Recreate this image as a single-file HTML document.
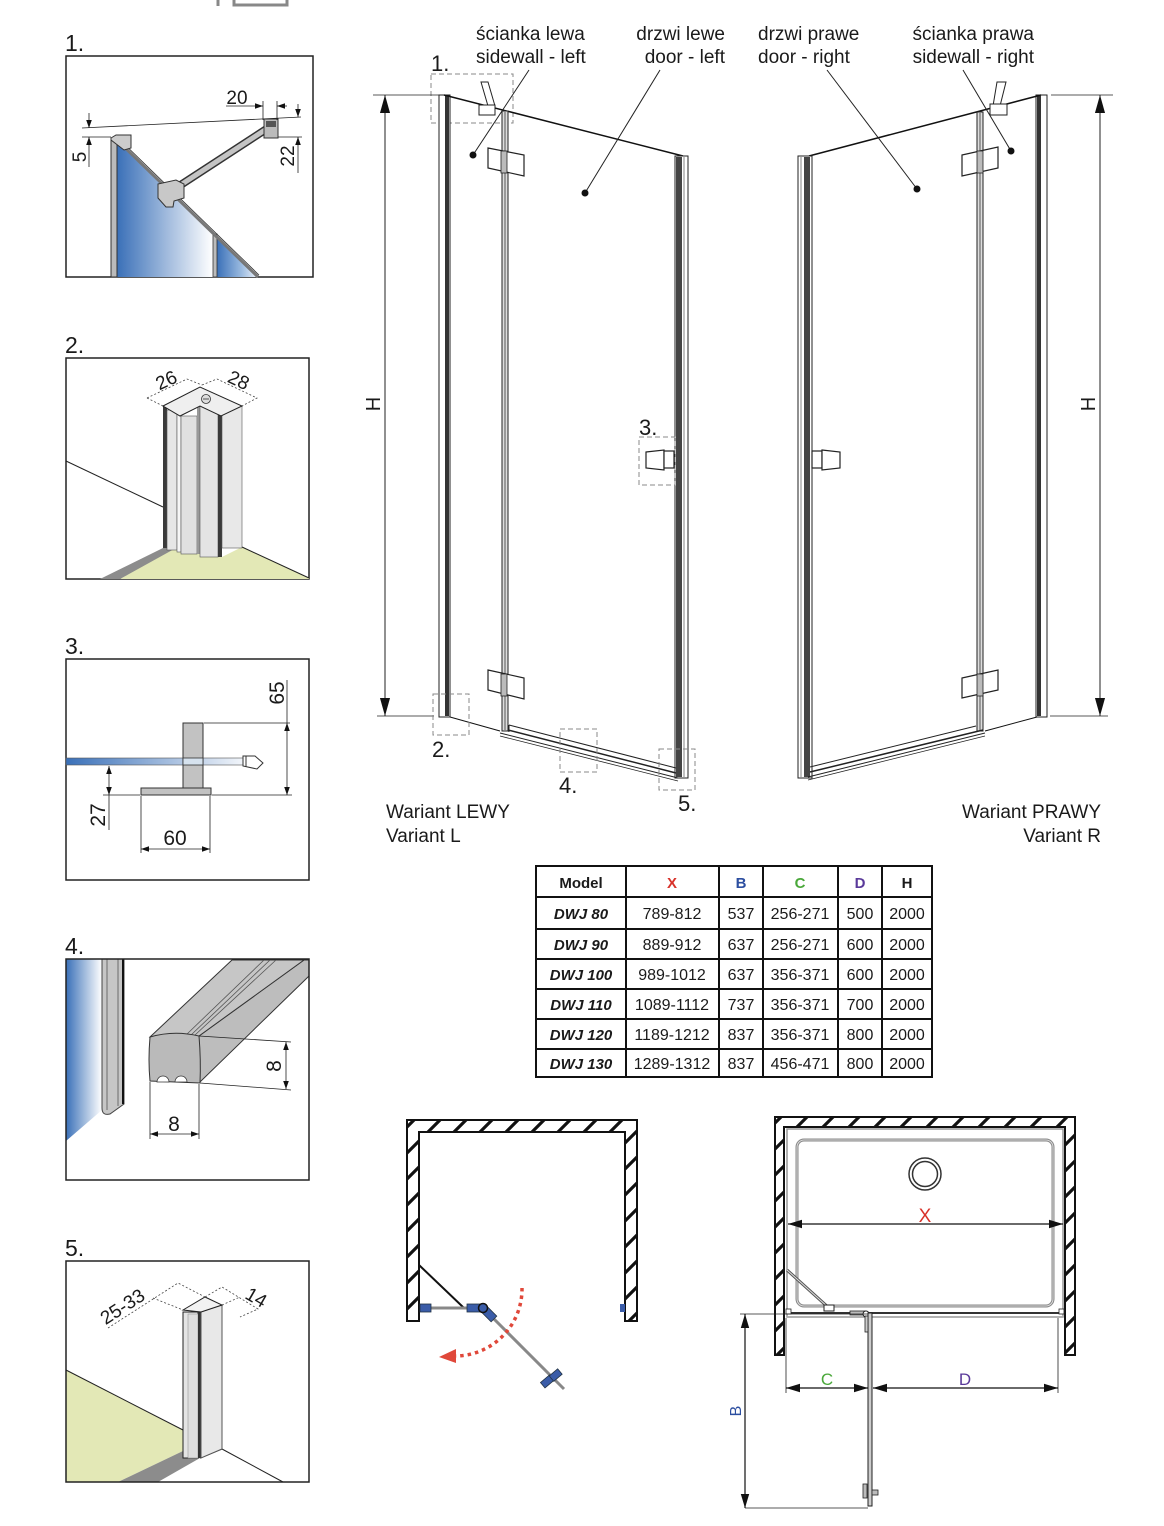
<!DOCTYPE html>
<html><head><meta charset="utf-8"><style>
html,body{margin:0;padding:0;background:#fff;}
svg{display:block;}
text{font-family:"Liberation Sans",sans-serif;fill:#1a1a1a;}
</style></head><body>
<svg width="1164" height="1526" viewBox="0 0 1164 1526" xmlns="http://www.w3.org/2000/svg">
<defs>
<marker id="a" viewBox="0 0 10 10" refX="10" refY="5" markerWidth="8" markerHeight="8" orient="auto-start-reverse" markerUnits="userSpaceOnUse"><path d="M0,1.5 L10,5 L0,8.5z" fill="#111"/></marker>
<marker id="b" viewBox="0 0 10 10" refX="10" refY="5" markerWidth="18" markerHeight="18" orient="auto-start-reverse" markerUnits="userSpaceOnUse"><path d="M0,2.2 L10,5 L0,7.8z" fill="#111"/></marker>
<marker id="c" viewBox="0 0 10 10" refX="10" refY="5" markerWidth="14" markerHeight="14" orient="auto-start-reverse" markerUnits="userSpaceOnUse"><path d="M0,2 L10,5 L0,8z" fill="#111"/></marker>
<linearGradient id="gb" x1="0" y1="0" x2="1" y2="0"><stop offset="0" stop-color="#3a70b8"/><stop offset="1" stop-color="#ffffff"/></linearGradient>
<linearGradient id="gb2" x1="0" y1="0" x2="1" y2="0"><stop offset="0" stop-color="#3a70b8"/><stop offset="0.6" stop-color="#9bbbe0"/><stop offset="1" stop-color="#eef3fa"/></linearGradient>
<pattern id="hatch" patternUnits="userSpaceOnUse" width="26" height="26"><path d="M-3,29 L29,-3 M-3,3 L3,-3 M23,29 L29,23" stroke="#111" stroke-width="3.2"/></pattern>
</defs>
<rect width="1164" height="1526" fill="#fff"/>

<!-- top partial icon -->
<line x1="218" y1="0" x2="218" y2="6" stroke="#888" stroke-width="3"/>
<path d="M234,0 V5 H287 V0" fill="none" stroke="#888" stroke-width="3"/>

<!-- ================= PANEL 1 ================= -->
<text x="65" y="51" font-size="23">1.</text>
<rect x="66" y="56" width="247" height="221" fill="none" stroke="#222" stroke-width="1.5"/>
<polygon points="117,140 213,233 213,277 117,277" fill="url(#gb)"/>
<polygon points="217,237 258,277 217,277" fill="url(#gb2)"/>
<rect x="111" y="138" width="6" height="139" fill="#bbb" stroke="#333" stroke-width="1"/>
<rect x="213" y="234" width="4" height="43" fill="#bbb" stroke="#333" stroke-width="0.8"/>
<line x1="117" y1="140" x2="258" y2="277" stroke="#777" stroke-width="3"/>
<line x1="118" y1="138" x2="259" y2="275" stroke="#333" stroke-width="0.8"/>
<polygon points="111,138 116,135 131,135 131,148 124,150 111,140" fill="#ccc" stroke="#333" stroke-width="1"/>
<!-- arm -->
<line x1="176" y1="188" x2="268" y2="128" stroke="#333" stroke-width="8"/>
<line x1="176" y1="188" x2="268" y2="128" stroke="#c4c4c4" stroke-width="5"/>
<rect x="264" y="119" width="14" height="19" fill="#bbb" stroke="#333" stroke-width="1"/>
<rect x="266" y="121" width="10" height="6" fill="#555"/>
<polygon points="158,184 176,180 184,184 184,198 174,201 173,207 166,207 158,198" fill="#c8c8c8" stroke="#333" stroke-width="1"/>
<!-- dims panel 1 -->
<line x1="82" y1="128" x2="301" y2="117" stroke="#222" stroke-width="0.8"/>
<line x1="82" y1="137" x2="111" y2="137" stroke="#222" stroke-width="0.8"/>
<line x1="89" y1="113" x2="89" y2="128" stroke="#222" stroke-width="0.8" marker-end="url(#a)"/>
<line x1="89" y1="167" x2="89" y2="137" stroke="#222" stroke-width="0.8" marker-end="url(#a)"/>
<text transform="translate(86,157) rotate(-90)" font-size="19" text-anchor="middle">5</text>
<line x1="226" y1="106" x2="263" y2="106" stroke="#222" stroke-width="0.8" marker-end="url(#a)"/>
<line x1="287" y1="106" x2="277" y2="106" stroke="#222" stroke-width="0.8" marker-end="url(#a)"/>
<line x1="263" y1="101" x2="263" y2="120" stroke="#222" stroke-width="0.8"/>
<line x1="277" y1="101" x2="277" y2="120" stroke="#222" stroke-width="0.8"/>
<text x="237" y="104" font-size="19" text-anchor="middle">20</text>
<line x1="278" y1="137" x2="302" y2="137" stroke="#222" stroke-width="0.8"/>
<line x1="298" y1="104" x2="298" y2="117" stroke="#222" stroke-width="0.8" marker-end="url(#a)"/>
<line x1="298" y1="173" x2="298" y2="137" stroke="#222" stroke-width="0.8" marker-end="url(#a)"/>
<text transform="translate(294,156) rotate(-90)" font-size="19" text-anchor="middle">22</text>

<!-- ================= PANEL 2 ================= -->
<text x="65" y="353" font-size="23">2.</text>
<rect x="66" y="358" width="243" height="221" fill="none" stroke="#222" stroke-width="1.5"/>
<line x1="66" y1="461" x2="163" y2="507" stroke="#222" stroke-width="1"/>
<polygon points="120,579 174,548 222,557 242,547 309,578 309,579" fill="#e3e8b6"/>
<polygon points="100,579 163,548 176,548 120,579" fill="#8c8c8c"/>
<line x1="242" y1="547" x2="309" y2="578" stroke="#222" stroke-width="1"/>
<!-- column -->
<rect x="163" y="406" width="4" height="142" fill="#3a3a3a"/>
<rect x="167" y="410" width="10" height="140" fill="#e6e6e6" stroke="#555" stroke-width="0.6"/>
<rect x="177" y="414" width="4" height="138" fill="#f6f6f6" stroke="#555" stroke-width="0.6"/>
<rect x="181" y="416" width="16" height="138" fill="#e0e0e0" stroke="#555" stroke-width="0.6"/>
<rect x="197" y="406" width="3" height="148" fill="#999"/>
<rect x="200" y="406" width="18" height="151" fill="#e4e4e4" stroke="#555" stroke-width="0.6"/>
<rect x="218" y="415" width="4" height="142" fill="#3a3a3a"/>
<rect x="222" y="406" width="20" height="142" fill="#e8e8e8" stroke="#555" stroke-width="0.6"/>
<polygon points="163,406 200,387 242,406 221,416 200,406 180,416" fill="#efefef" stroke="#222" stroke-width="1"/>
<circle cx="206" cy="399" r="4.5" fill="#ddd" stroke="#333" stroke-width="0.8"/>
<line x1="203" y1="399" x2="209" y2="399" stroke="#333" stroke-width="0.8"/>
<g stroke="#444" stroke-width="0.8" stroke-dasharray="2,2" fill="none">
<path d="M147,398 L187,379 L202,385"/><path d="M147,398 L163,406"/>
<path d="M202,385 L217,379 L257,398 L242,406"/>
</g>
<text transform="translate(169,386) rotate(-25)" font-size="19" text-anchor="middle">26</text>
<text transform="translate(236,386) rotate(25)" font-size="19" text-anchor="middle">28</text>

<!-- ================= PANEL 3 ================= -->
<text x="65" y="654" font-size="23">3.</text>
<rect x="66" y="659" width="243" height="221" fill="none" stroke="#222" stroke-width="1.5"/>
<rect x="66" y="758" width="190" height="7" fill="url(#gb)" stroke="#555" stroke-width="0.6"/>
<rect x="183" y="723" width="20" height="65" fill="#c2c2c2" stroke="#333" stroke-width="1"/>
<rect x="183" y="758" width="20" height="7" fill="#d6e2ee" stroke="#333" stroke-width="0.8"/>
<rect x="141" y="788" width="70" height="7" fill="#c2c2c2" stroke="#333" stroke-width="1"/>
<path d="M243,756 L255,756 L263,763 L257,769 L243,766 Z" fill="#fff" stroke="#333" stroke-width="1"/>
<line x1="246" y1="756" x2="246" y2="767" stroke="#333" stroke-width="1"/>
<line x1="204" y1="723" x2="290" y2="723" stroke="#222" stroke-width="0.8"/>
<line x1="212" y1="795" x2="292" y2="795" stroke="#222" stroke-width="0.8"/>
<line x1="287" y1="680" x2="287" y2="723" stroke="#222" stroke-width="0.8"/>
<line x1="287" y1="759" x2="287" y2="723" stroke="#222" stroke-width="0.8" marker-end="url(#a)"/>
<line x1="287" y1="759" x2="287" y2="795" stroke="#222" stroke-width="0.8" marker-end="url(#a)"/>
<text transform="translate(284,693) rotate(-90)" font-size="21" text-anchor="middle">65</text>
<line x1="103" y1="795" x2="140" y2="795" stroke="#222" stroke-width="0.8"/>
<line x1="109" y1="780" x2="109" y2="766" stroke="#222" stroke-width="0.8" marker-end="url(#a)"/>
<line x1="109" y1="780" x2="109" y2="795" stroke="#222" stroke-width="0.8" marker-end="url(#a)"/>
<line x1="109" y1="795" x2="109" y2="830" stroke="#222" stroke-width="0.8"/>
<text transform="translate(105,815) rotate(-90)" font-size="21" text-anchor="middle">27</text>
<line x1="141" y1="796" x2="141" y2="853" stroke="#222" stroke-width="0.8"/>
<line x1="210" y1="796" x2="210" y2="853" stroke="#222" stroke-width="0.8"/>
<line x1="175" y1="849" x2="141" y2="849" stroke="#222" stroke-width="0.8" marker-end="url(#a)"/>
<line x1="175" y1="849" x2="210" y2="849" stroke="#222" stroke-width="0.8" marker-end="url(#a)"/>
<text x="175" y="845" font-size="21" text-anchor="middle">60</text>

<!-- ================= PANEL 4 ================= -->
<text x="65" y="954" font-size="23">4.</text>
<polygon points="66,959 102,959 102,1110 66,1141" fill="url(#gb)"/>
<path d="M102,959 L124,959 L124,1104 L110,1114 Q102,1116 102,1108 Z" fill="#c6c6c6" stroke="#444" stroke-width="1"/>
<line x1="107" y1="959" x2="107" y2="1110" stroke="#555" stroke-width="0.8"/>
<line x1="118" y1="959" x2="118" y2="1106" stroke="#555" stroke-width="0.8"/>
<line x1="123" y1="959" x2="123" y2="1104" stroke="#111" stroke-width="2"/>
<!-- profile -->
<polygon points="199,1036 304,960 309,960 309,976 200,1082" fill="#bdbdbd" stroke="#333" stroke-width="1"/>
<polygon points="150,1037 232,960 304,960 199,1036" fill="#c6c6c6" stroke="#333" stroke-width="1"/>
<line x1="186" y1="1035" x2="264" y2="960" stroke="#555" stroke-width="0.8"/>
<line x1="191" y1="1035" x2="270" y2="960" stroke="#555" stroke-width="0.8"/>
<line x1="195" y1="1035" x2="276" y2="960" stroke="#555" stroke-width="0.8"/>
<path d="M150,1037 Q174,1030 199,1036 Q201,1060 200,1083 L150,1081 Q148,1060 150,1037 Z" fill="#bababa" stroke="#333" stroke-width="1"/>
<path d="M157,1082 A6,6 0 0 1 169,1082 Z" fill="#fff" stroke="#333" stroke-width="0.8"/>
<path d="M175,1082 A6,6 0 0 1 187,1082 Z" fill="#fff" stroke="#333" stroke-width="0.8"/>
<line x1="199" y1="1036" x2="291" y2="1042" stroke="#222" stroke-width="0.8"/>
<line x1="200" y1="1083" x2="291" y2="1090" stroke="#222" stroke-width="0.8"/>
<line x1="286" y1="1065" x2="286" y2="1042" stroke="#222" stroke-width="0.8" marker-end="url(#a)"/>
<line x1="286" y1="1065" x2="286" y2="1089" stroke="#222" stroke-width="0.8" marker-end="url(#a)"/>
<text transform="translate(281,1066) rotate(-90)" font-size="21" text-anchor="middle">8</text>
<line x1="150" y1="1082" x2="150" y2="1139" stroke="#222" stroke-width="0.8"/>
<line x1="199" y1="1084" x2="199" y2="1139" stroke="#222" stroke-width="0.8"/>
<line x1="174" y1="1134" x2="150" y2="1134" stroke="#222" stroke-width="0.8" marker-end="url(#a)"/>
<line x1="174" y1="1134" x2="199" y2="1134" stroke="#222" stroke-width="0.8" marker-end="url(#a)"/>
<text x="174" y="1131" font-size="21" text-anchor="middle">8</text>
<rect x="66" y="959" width="243" height="221" fill="none" stroke="#222" stroke-width="1.5"/>

<!-- ================= PANEL 5 ================= -->
<text x="65" y="1256" font-size="23">5.</text>
<polygon points="66,1370 183,1430 183,1451 118,1482 66,1482" fill="#e3e8b6"/>
<line x1="66" y1="1370" x2="183" y2="1430" stroke="#222" stroke-width="1"/>
<polygon points="118,1482 183,1451 200,1458 158,1482" fill="#8c8c8c"/>
<line x1="200" y1="1458" x2="222" y2="1449" stroke="#222" stroke-width="1"/>
<line x1="222" y1="1449" x2="283" y2="1482" stroke="#222" stroke-width="1"/>
<rect x="183" y="1312" width="15" height="146" fill="#e4e4e4" stroke="#222" stroke-width="1"/>
<rect x="188" y="1314" width="10" height="144" fill="#dedede" stroke="#888" stroke-width="0.5"/>
<rect x="198" y="1312" width="3" height="146" fill="#333"/>
<polygon points="201,1312 222,1305 222,1449 201,1458" fill="#e8e8e8" stroke="#555" stroke-width="1"/>
<polygon points="183,1310 205,1297 222,1305 201,1312" fill="#f2f2f2" stroke="#222" stroke-width="1"/>
<g stroke="#444" stroke-width="0.8" stroke-dasharray="2,2" fill="none">
<path d="M108,1328 L178,1283 L205,1297"/><path d="M153,1298 L183,1310"/>
<path d="M205,1297 L222,1287 L258,1309 L240,1317"/><path d="M222,1305 L240,1297"/>
</g>
<text transform="translate(126,1312) rotate(-33)" font-size="19" text-anchor="middle">25-33</text>
<text transform="translate(253,1303) rotate(30)" font-size="19" text-anchor="middle">14</text>
<rect x="66" y="1261" width="243" height="221" fill="none" stroke="#222" stroke-width="1.5"/>

<!-- ================= LEFT VARIANT ================= -->
<text x="476" y="40" font-size="19">ścianka lewa</text>
<text x="476" y="63" font-size="19">sidewall - left</text>
<text x="725" y="40" font-size="19" text-anchor="end">drzwi lewe</text>
<text x="725" y="63" font-size="19" text-anchor="end">door - left</text>
<text x="431" y="71" font-size="22">1.</text>
<rect x="431" y="74" width="82" height="49" fill="none" stroke="#888" stroke-width="1" stroke-dasharray="5,3"/>
<!-- H dim -->
<line x1="373" y1="95" x2="441" y2="95" stroke="#222" stroke-width="0.8"/>
<line x1="377" y1="716" x2="434" y2="716" stroke="#222" stroke-width="0.8"/>
<line x1="385" y1="405" x2="385" y2="95" stroke="#222" stroke-width="1" marker-end="url(#b)"/>
<line x1="385" y1="405" x2="385" y2="716" stroke="#222" stroke-width="1" marker-end="url(#b)"/>
<text transform="translate(380,404) rotate(-90)" font-size="20" text-anchor="middle">H</text>
<!-- sidewall post -->
<rect x="439" y="95" width="11" height="622" fill="#fff" stroke="#222" stroke-width="1"/>
<rect x="445" y="96" width="4" height="620" fill="#333"/>
<!-- top line -->
<line x1="444" y1="95" x2="683" y2="156" stroke="#111" stroke-width="1.5"/>
<line x1="450" y1="717" x2="500" y2="731" stroke="#111" stroke-width="1"/>
<!-- hinge post -->
<rect x="502" y="111" width="6" height="620" fill="#ddd" stroke="#222" stroke-width="1"/>
<line x1="505" y1="112" x2="505" y2="730" stroke="#555" stroke-width="1"/>
<!-- door right post -->
<rect x="675" y="156" width="13" height="622" fill="#fff" stroke="#222" stroke-width="1"/>
<rect x="676" y="157" width="6" height="620" fill="#444"/>
<line x1="684" y1="157" x2="684" y2="777" stroke="#666" stroke-width="0.8"/>
<!-- bottom rail -->
<line x1="509" y1="725" x2="676" y2="768" stroke="#222" stroke-width="1"/>
<line x1="508" y1="730" x2="676" y2="773" stroke="#222" stroke-width="1.5"/>
<line x1="500" y1="733" x2="678" y2="778" stroke="#222" stroke-width="1"/>
<line x1="500" y1="736" x2="678" y2="781" stroke="#222" stroke-width="0.8"/>
<line x1="509" y1="725" x2="509" y2="732" stroke="#222" stroke-width="1"/>
<!-- hinges -->
<polygon points="488,148 524,155 524,176 488,168" fill="#fff" stroke="#222" stroke-width="1.2"/>
<rect x="501" y="151" width="6" height="22" fill="#bbb" stroke="#222" stroke-width="0.8"/>
<polygon points="488,670 524,678 524,699 488,690" fill="#fff" stroke="#222" stroke-width="1.2"/>
<rect x="501" y="674" width="6" height="22" fill="#bbb" stroke="#222" stroke-width="0.8"/>
<!-- bracket -->
<polygon points="481,82 488,82 495,106 488,106" fill="#fff" stroke="#222" stroke-width="1"/>
<rect x="479" y="105" width="16" height="10" fill="#fff" stroke="#222" stroke-width="1"/>
<!-- handle -->
<rect x="639" y="437" width="36" height="48" fill="none" stroke="#888" stroke-width="1" stroke-dasharray="5,3"/>
<text x="639" y="435" font-size="22">3.</text>
<polygon points="646,452 664,450 664,470 646,468" fill="#fff" stroke="#222" stroke-width="1.2"/>
<rect x="664" y="451" width="10" height="17" fill="#fff" stroke="#222" stroke-width="1.2"/>
<!-- dots & leaders -->
<line x1="529" y1="70" x2="473" y2="155" stroke="#222" stroke-width="1"/>
<circle cx="473" cy="155" r="3.5" fill="#111"/>
<line x1="660" y1="70" x2="585" y2="193" stroke="#222" stroke-width="1"/>
<circle cx="585" cy="193" r="3.5" fill="#111"/>
<!-- dashed boxes -->
<rect x="433" y="694" width="36" height="41" fill="none" stroke="#888" stroke-width="1" stroke-dasharray="5,3"/>
<text x="432" y="757" font-size="22">2.</text>
<rect x="560" y="729" width="37" height="43" fill="none" stroke="#888" stroke-width="1" stroke-dasharray="5,3"/>
<text x="559" y="793" font-size="22">4.</text>
<rect x="659" y="749" width="36" height="41" fill="none" stroke="#888" stroke-width="1" stroke-dasharray="5,3"/>
<text x="678" y="811" font-size="22">5.</text>
<text x="386" y="818" font-size="19">Wariant LEWY</text>
<text x="386" y="842" font-size="19">Variant L</text>

<!-- ================= RIGHT VARIANT ================= -->
<text x="758" y="40" font-size="19">drzwi prawe</text>
<text x="758" y="63" font-size="19">door - right</text>
<text x="1034" y="40" font-size="19" text-anchor="end">ścianka prawa</text>
<text x="1034" y="63" font-size="19" text-anchor="end">sidewall - right</text>
<line x1="1051" y1="95" x2="1113" y2="95" stroke="#222" stroke-width="0.8"/>
<line x1="1050" y1="716" x2="1108" y2="716" stroke="#222" stroke-width="0.8"/>
<line x1="1100" y1="405" x2="1100" y2="95" stroke="#222" stroke-width="1" marker-end="url(#b)"/>
<line x1="1100" y1="405" x2="1100" y2="716" stroke="#222" stroke-width="1" marker-end="url(#b)"/>
<text transform="translate(1095,404) rotate(-90)" font-size="20" text-anchor="middle">H</text>
<rect x="1036" y="95" width="11" height="622" fill="#fff" stroke="#222" stroke-width="1"/>
<rect x="1037" y="96" width="4" height="620" fill="#333"/>
<line x1="1041" y1="95" x2="809" y2="156" stroke="#111" stroke-width="1.5"/>
<line x1="985" y1="731" x2="1037" y2="717" stroke="#111" stroke-width="1"/>
<rect x="977" y="112" width="6" height="619" fill="#ddd" stroke="#222" stroke-width="1"/>
<line x1="980" y1="113" x2="980" y2="730" stroke="#555" stroke-width="1"/>
<rect x="798" y="156" width="14" height="622" fill="#fff" stroke="#222" stroke-width="1"/>
<rect x="804" y="157" width="6" height="620" fill="#444"/>
<line x1="801" y1="157" x2="801" y2="777" stroke="#666" stroke-width="0.8"/>
<line x1="810" y1="767" x2="976" y2="726" stroke="#222" stroke-width="1"/>
<line x1="810" y1="772" x2="983" y2="730" stroke="#222" stroke-width="1.5"/>
<line x1="808" y1="777" x2="985" y2="733" stroke="#222" stroke-width="1"/>
<line x1="808" y1="780" x2="985" y2="736" stroke="#222" stroke-width="0.8"/>
<polygon points="962,155 998,147 998,168 962,176" fill="#fff" stroke="#222" stroke-width="1.2"/>
<rect x="977" y="151" width="6" height="22" fill="#bbb" stroke="#222" stroke-width="0.8"/>
<polygon points="962,678 998,670 998,690 962,698" fill="#fff" stroke="#222" stroke-width="1.2"/>
<rect x="977" y="674" width="6" height="22" fill="#bbb" stroke="#222" stroke-width="0.8"/>
<polygon points="997,82 1006,82 1000,106 993,106" fill="#fff" stroke="#222" stroke-width="1"/>
<rect x="990" y="104" width="17" height="11" fill="#fff" stroke="#222" stroke-width="1"/>
<rect x="812" y="451" width="10" height="17" fill="#fff" stroke="#222" stroke-width="1.2"/>
<polygon points="822,450 840,452 840,468 822,470" fill="#fff" stroke="#222" stroke-width="1.2"/>
<line x1="827" y1="70" x2="917" y2="189" stroke="#222" stroke-width="1"/>
<circle cx="917" cy="189" r="3.5" fill="#111"/>
<line x1="963" y1="70" x2="1011" y2="151" stroke="#222" stroke-width="1"/>
<circle cx="1011" cy="151" r="3.5" fill="#111"/>
<text x="1101" y="818" font-size="19" text-anchor="end">Wariant PRAWY</text>
<text x="1101" y="842" font-size="19" text-anchor="end">Variant R</text>

<!-- ================= TABLE ================= -->
<g stroke="#111" stroke-width="2" fill="none">
<rect x="536" y="866" width="396" height="211"/>
<line x1="626" y1="866" x2="626" y2="1077"/>
<line x1="719" y1="866" x2="719" y2="1077"/>
<line x1="763" y1="866" x2="763" y2="1077"/>
<line x1="838" y1="866" x2="838" y2="1077"/>
<line x1="882" y1="866" x2="882" y2="1077"/>
<line x1="536" y1="897" x2="932" y2="897"/>
<line x1="536" y1="929" x2="932" y2="929"/>
<line x1="536" y1="959" x2="932" y2="959"/>
<line x1="536" y1="989" x2="932" y2="989"/>
<line x1="536" y1="1019" x2="932" y2="1019"/>
<line x1="536" y1="1049" x2="932" y2="1049"/>
</g>
<g font-size="15" font-weight="bold" text-anchor="middle">
<text x="581" y="888">Model</text>
<text x="672" y="888" style="fill:#d8322a">X</text>
<text x="741" y="888" style="fill:#2c4ea0">B</text>
<text x="800" y="888" style="fill:#4aa83a">C</text>
<text x="860" y="888" style="fill:#5a3a9a">D</text>
<text x="907" y="888">H</text>
</g>
<g font-size="15" font-weight="bold" font-style="italic" text-anchor="middle">
<text x="581" y="919">DWJ 80</text>
<text x="581" y="950">DWJ 90</text>
<text x="581" y="980">DWJ 100</text>
<text x="581" y="1010">DWJ 110</text>
<text x="581" y="1040">DWJ 120</text>
<text x="581" y="1069">DWJ 130</text>
</g>
<g font-size="16" text-anchor="middle">
<text x="672" y="919">789-812</text><text x="741" y="919">537</text><text x="800" y="919">256-271</text><text x="860" y="919">500</text><text x="907" y="919">2000</text>
<text x="672" y="950">889-912</text><text x="741" y="950">637</text><text x="800" y="950">256-271</text><text x="860" y="950">600</text><text x="907" y="950">2000</text>
<text x="672" y="980">989-1012</text><text x="741" y="980">637</text><text x="800" y="980">356-371</text><text x="860" y="980">600</text><text x="907" y="980">2000</text>
<text x="672" y="1010">1089-1112</text><text x="741" y="1010">737</text><text x="800" y="1010">356-371</text><text x="860" y="1010">700</text><text x="907" y="1010">2000</text>
<text x="672" y="1040">1189-1212</text><text x="741" y="1040">837</text><text x="800" y="1040">356-371</text><text x="860" y="1040">800</text><text x="907" y="1040">2000</text>
<text x="672" y="1069">1289-1312</text><text x="741" y="1069">837</text><text x="800" y="1069">456-471</text><text x="860" y="1069">800</text><text x="907" y="1069">2000</text>
</g>

<!-- ================= LEFT PLAN ================= -->
<polygon points="407,1120 637,1120 637,1321 625,1321 625,1132 419,1132 419,1321 407,1321" fill="url(#hatch)" stroke="#111" stroke-width="2"/>
<line x1="419" y1="1265" x2="464" y2="1308" stroke="#111" stroke-width="2"/>
<line x1="425" y1="1308" x2="475" y2="1308" stroke="#888" stroke-width="3"/>
<rect x="420" y="1304" width="11" height="8" fill="#3a5ca8" stroke="#234" stroke-width="0.8"/>
<rect x="467" y="1304" width="14" height="8" fill="#3a5ca8" stroke="#234" stroke-width="0.8"/>
<line x1="483" y1="1308" x2="564" y2="1389" stroke="#888" stroke-width="3"/>
<rect x="482" y="1310" width="14" height="8" fill="#3a5ca8" stroke="#234" stroke-width="0.8" transform="rotate(45 489 1314)"/>
<circle cx="483" cy="1308" r="4.5" fill="#3a5ca8" stroke="#111" stroke-width="1.5"/>
<rect x="541" y="1378" width="12" height="7" fill="#3a5ca8" stroke="#234" stroke-width="0.8" transform="rotate(-40 547 1381)"/>
<rect x="550" y="1372" width="11" height="7" fill="#3a5ca8" stroke="#234" stroke-width="0.8" transform="rotate(-40 555 1375)"/>
<rect x="620" y="1304" width="5" height="8" fill="#3a5ca8"/>
<path d="M522,1288 A67,67 0 0 1 456,1356" fill="none" stroke="#e0483a" stroke-width="3.5" stroke-dasharray="3.5,4"/>
<polygon points="439,1357 456,1349 456,1363" fill="#e0483a"/>

<!-- ================= RIGHT PLAN ================= -->
<polygon points="775,1117 1075,1117 1075,1355 1065,1355 1065,1127 784,1127 784,1355 775,1355" fill="url(#hatch)" stroke="#111" stroke-width="2"/>
<rect x="787" y="1129" width="276" height="188" fill="none" stroke="#999" stroke-width="1.5"/>
<rect x="797" y="1140" width="256" height="166" rx="7" fill="none" stroke="#8a8a8a" stroke-width="3"/>
<rect x="797" y="1140" width="256" height="166" rx="7" fill="none" stroke="#e8e8e8" stroke-width="0.8"/>
<circle cx="925" cy="1174" r="16" fill="none" stroke="#333" stroke-width="1.5"/>
<circle cx="925" cy="1174" r="12.5" fill="none" stroke="#333" stroke-width="1.5"/>
<line x1="853" y1="1224" x2="788" y2="1224" stroke="#111" stroke-width="1.2" marker-end="url(#c)"/>
<line x1="853" y1="1224" x2="1063" y2="1224" stroke="#111" stroke-width="1.2" marker-end="url(#c)"/>
<text x="925" y="1222" font-size="19" text-anchor="middle" style="fill:#d8322a">X</text>
<line x1="787" y1="1270" x2="829" y2="1308" stroke="#555" stroke-width="3"/>
<line x1="787" y1="1270" x2="829" y2="1308" stroke="#ddd" stroke-width="1"/>
<line x1="787" y1="1313" x2="1063" y2="1313" stroke="#333" stroke-width="2"/>
<line x1="787" y1="1317" x2="1063" y2="1317" stroke="#aaa" stroke-width="1.5"/>
<rect x="824" y="1305" width="10" height="6" fill="#fff" stroke="#222" stroke-width="1"/>
<rect x="786" y="1309" width="5" height="5" fill="#fff" stroke="#222" stroke-width="0.8"/>
<rect x="1059" y="1309" width="5" height="5" fill="#fff" stroke="#222" stroke-width="0.8"/>
<rect x="850" y="1311" width="16" height="4" fill="#bbb" stroke="#222" stroke-width="0.8"/>
<circle cx="866" cy="1314" r="3" fill="#fff" stroke="#222" stroke-width="1"/>
<rect x="868" y="1313" width="4" height="193" fill="#ccc" stroke="#222" stroke-width="1"/>
<rect x="865" y="1316" width="3" height="16" fill="#ccc" stroke="#222" stroke-width="0.8"/>
<rect x="863" y="1484" width="4" height="14" fill="#bbb" stroke="#222" stroke-width="0.8"/>
<rect x="872" y="1490" width="6" height="5" fill="#bbb" stroke="#222" stroke-width="0.8"/>
<!-- B -->
<line x1="740" y1="1314" x2="868" y2="1314" stroke="#222" stroke-width="0.8"/>
<line x1="745" y1="1508" x2="868" y2="1508" stroke="#222" stroke-width="0.8"/>
<line x1="745" y1="1410" x2="745" y2="1314" stroke="#111" stroke-width="1.2" marker-end="url(#c)"/>
<line x1="745" y1="1410" x2="745" y2="1508" stroke="#111" stroke-width="1.2" marker-end="url(#c)"/>
<text transform="translate(741,1411) rotate(-90)" font-size="16" text-anchor="middle" style="fill:#2c4ea0">B</text>
<!-- C & D -->
<line x1="786" y1="1318" x2="786" y2="1393" stroke="#222" stroke-width="0.8"/>
<line x1="1058" y1="1318" x2="1058" y2="1393" stroke="#222" stroke-width="0.8"/>
<line x1="827" y1="1388" x2="786" y2="1388" stroke="#111" stroke-width="1.2" marker-end="url(#c)"/>
<line x1="827" y1="1388" x2="868" y2="1388" stroke="#111" stroke-width="1.2" marker-end="url(#c)"/>
<line x1="965" y1="1388" x2="873" y2="1388" stroke="#111" stroke-width="1.2" marker-end="url(#c)"/>
<line x1="965" y1="1388" x2="1058" y2="1388" stroke="#111" stroke-width="1.2" marker-end="url(#c)"/>
<text x="827" y="1385" font-size="17" text-anchor="middle" style="fill:#4aa83a">C</text>
<text x="965" y="1385" font-size="17" text-anchor="middle" style="fill:#5a3a9a">D</text>
</svg>
</body></html>
